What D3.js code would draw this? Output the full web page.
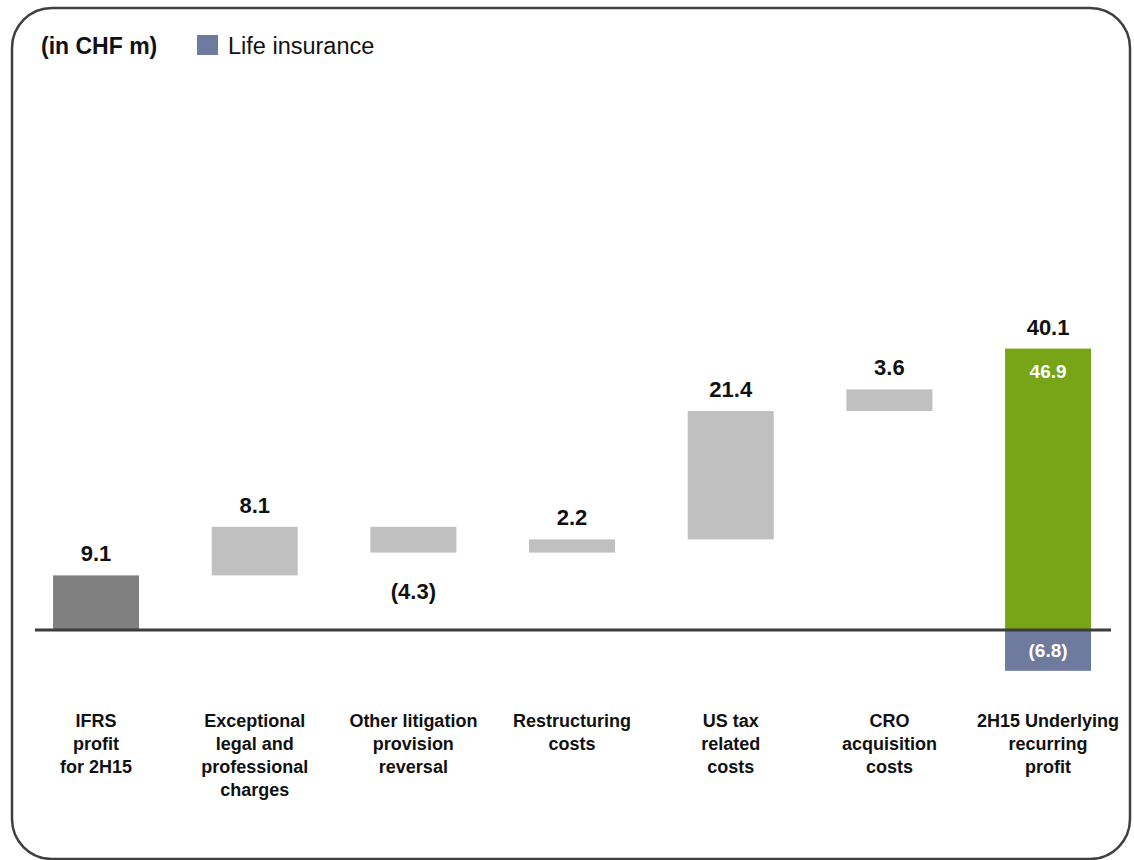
<!DOCTYPE html>
<html>
<head>
<meta charset="utf-8">
<script src="https://cdn.jsdelivr.net/npm/d3@7"></script>
<style>
  html, body { margin: 0; padding: 0; background: #ffffff; }
  svg { display: block; font-family: "Liberation Sans", Arial, sans-serif; }
</style>
</head>
<body>
<svg id="chart" width="1134" height="860"></svg>
<script>
// Bridge from IFRS profit to underlying recurring profit, 2H15 (CHF m)
const categories = [
  "IFRS profit for 2H15",
  "Exceptional legal and professional charges",
  "Other litigation provision reversal",
  "Restructuring costs",
  "US tax related costs",
  "CRO acquisition costs",
  "2H15 Underlying recurring profit"
];
const categoryLines = [
  ["IFRS", "profit", "for 2H15"],
  ["Exceptional", "legal and", "professional", "charges"],
  ["Other litigation", "provision", "reversal"],
  ["Restructuring", "costs"],
  ["US tax", "related", "costs"],
  ["CRO", "acquisition", "costs"],
  ["2H15 Underlying", "recurring", "profit"]
];
// first entry is the starting profit, the rest are adjustments
const stepValues = [9.1, 8.1, -4.3, 2.2, 21.4, 3.6];
// underlying profit split: other businesses and life insurance
const totalSegments = [46.9, -6.8];
const legendLabel = "Life insurance";
const unitLabel = "(in CHF m)";

const colors = {
  start: "#808080",
  step: "#c0c0c0",
  total: "#76a618",
  life: "#6f7a9f",
  axis: "#3c3c3c",
  frame: "#404040"
};

const svg = d3.select("#chart");

// rounded frame
svg.append("rect")
  .attr("x", 12).attr("y", 8)
  .attr("width", 1118).attr("height", 851)
  .attr("rx", 40).attr("ry", 40)
  .attr("fill", "none")
  .attr("stroke", colors.frame)
  .attr("stroke-width", 2.5);

const x = d3.scaleBand()
  .domain(categories)
  .range([16.7, 1127.4])
  .paddingInner(0.458)
  .paddingOuter(0.229);

const y = d3.scaleLinear().domain([0, 50]).range([630, 330]);

const fmt = v => v < 0 ? `(${Math.abs(v).toFixed(1)})` : v.toFixed(1);

// waterfall steps
let running = 0;
const steps = stepValues.map((v, i) => {
  const from = running;
  running += v;
  return { cat: categories[i], v, lo: Math.min(from, running), hi: Math.max(from, running), i };
});

svg.append("g").selectAll("rect")
  .data(steps)
  .join("rect")
  .attr("x", d => x(d.cat))
  .attr("width", x.bandwidth())
  .attr("y", d => y(d.hi))
  .attr("height", d => y(d.lo) - y(d.hi))
  .attr("fill", d => d.i === 0 ? colors.start : colors.step);

svg.append("g").selectAll("text")
  .data(steps)
  .join("text")
  .attr("x", d => x(d.cat) + x.bandwidth() / 2)
  .attr("y", d => d.v < 0 ? y(d.lo) + 46 : y(d.hi) - 14)
  .attr("text-anchor", "middle")
  .attr("font-size", 22)
  .attr("font-weight", "bold")
  .attr("fill", "#111")
  .text(d => fmt(d.v));

// total bar: positive segment above zero, life insurance below
const totalCat = categories[categories.length - 1];
const tx = x(totalCat), tw = x.bandwidth();
svg.append("g").selectAll("rect")
  .data(totalSegments)
  .join("rect")
  .attr("x", tx)
  .attr("width", tw)
  .attr("y", d => y(Math.max(0, d)))
  .attr("height", d => Math.abs(y(d) - y(0)))
  .attr("fill", (d, i) => i === 0 ? colors.total : colors.life);

svg.append("text")
  .attr("x", tx + tw / 2)
  .attr("y", y(totalSegments[0]) + 29)
  .attr("text-anchor", "middle")
  .attr("font-size", 19).attr("font-weight", "bold")
  .attr("fill", "#fff")
  .text(fmt(totalSegments[0]));

svg.append("text")
  .attr("x", tx + tw / 2)
  .attr("y", y(totalSegments[1] / 2) + 7)
  .attr("text-anchor", "middle")
  .attr("font-size", 19).attr("font-weight", "bold")
  .attr("fill", "#fff")
  .text(fmt(totalSegments[1]));

svg.append("text")
  .attr("x", tx + tw / 2)
  .attr("y", y(totalSegments[0]) - 14)
  .attr("text-anchor", "middle")
  .attr("font-size", 22).attr("font-weight", "bold")
  .attr("fill", "#111")
  .text(fmt(d3.sum(totalSegments)));

// zero line
svg.append("line")
  .attr("x1", 35).attr("x2", 1111)
  .attr("y1", y(0)).attr("y2", y(0))
  .attr("stroke", colors.axis)
  .attr("stroke-width", 3);

// category labels
const labels = svg.append("g").selectAll("text")
  .data(categories)
  .join("text")
  .attr("x", d => x(d) + x.bandwidth() / 2)
  .attr("y", 727)
  .attr("text-anchor", "middle")
  .attr("font-size", 18)
  .attr("font-weight", "bold")
  .attr("fill", "#111");
labels.each(function(d, i) {
  d3.select(this).selectAll("tspan")
    .data(categoryLines[i])
    .join("tspan")
    .attr("x", x(d) + x.bandwidth() / 2)
    .attr("dy", (l, j) => j === 0 ? 0 : 23)
    .text(l => l);
});

// unit and legend
svg.append("text")
  .attr("x", 41).attr("y", 54)
  .attr("font-size", 23).attr("font-weight", "bold")
  .attr("fill", "#111")
  .text(unitLabel);
svg.append("rect")
  .attr("x", 197).attr("y", 35)
  .attr("width", 21).attr("height", 20)
  .attr("fill", colors.life);
svg.append("text")
  .attr("x", 228).attr("y", 54)
  .attr("font-size", 23.5)
  .attr("fill", "#111")
  .text(legendLabel);
</script>
</body>
</html>
